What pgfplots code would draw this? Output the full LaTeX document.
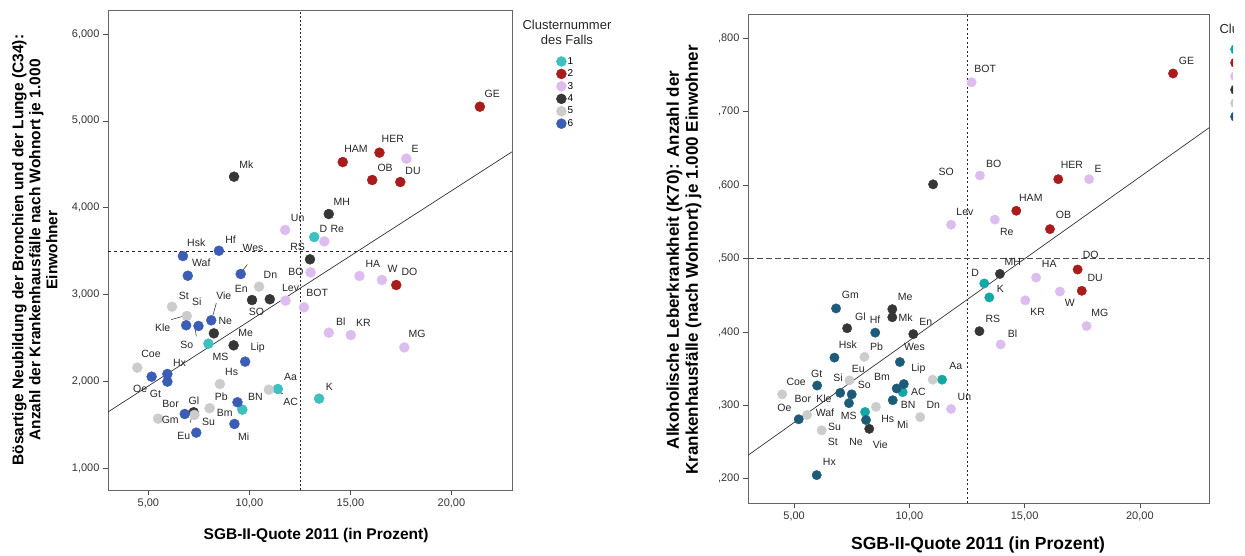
\documentclass[border=0pt]{standalone}
\usepackage{fontspec}
\setmainfont{Liberation Sans}
\usepackage{pgfplots}
\pgfplotsset{compat=1.18}

\definecolor{cA}{HTML}{3EC0C0}
\definecolor{cAr}{HTML}{14A7A7}
\definecolor{cB}{HTML}{A81C1C}
\definecolor{cC}{HTML}{DDBDF0}
\definecolor{cD}{HTML}{363636}
\definecolor{cE}{HTML}{CCCCCC}
\definecolor{cF}{HTML}{3C5DB5}
\definecolor{cFr}{HTML}{1D5C78}

\pgfplotsset{
  spss/.style={
    scale only axis, xmin=3, xmax=23, clip mode=individual,
    axis line style={draw=black!60, line width=0.9pt},
    tick pos=left, tick align=outside, major tick length=5pt,
    tick style={draw=black!70, line width=0.6pt},
    xtick={5,10,15,20}, xticklabels={{5,00},{10,00},{15,00},{20,00}},
    ticklabel style={font=\fontsize{11}{13}\selectfont, text=black!80},
    legend image code/.code={\fill[##1] (0pt,0pt) circle (5pt);},
    legend cell align=left,
    unbounded coords=jump,
  },
  pt/.style={only marks, mark=*, mark size=5pt, color=#1, mark options={draw=none, fill=#1}},
  labs/.style={draw=none, forget plot, nodes near coords, point meta=explicit symbolic,
    every node near coord/.append style={anchor=center, inner sep=0pt, text=black!85,
      font=\fontsize{10.5}{12}\selectfont}},
  refline/.style={forget plot, black!85, line width=0.7pt, #1},
  leader/.style={forget plot, black!75, line width=0.6pt},
}

\begin{document}
\begin{tikzpicture}
\useasboundingbox (0pt,0pt) rectangle (1245pt,555pt);
\clip (0pt,0pt) rectangle (1233pt,555pt);

% ---------------- left: C34 ----------------
\begin{axis}[spss, at={(108pt,65pt)}, anchor=south west, width=404pt, height=480pt,
  ymin=0.746, ymax=6.277,
  ytick={1,2,3,4,5,6}, yticklabels={{1,000},{2,000},{3,000},{4,000},{5,000},{6,000}},
  xlabel={SGB-II-Quote 2011 (in Prozent)},
  xlabel style={at={(0.515,-0.0938)}, anchor=center, font=\bfseries\fontsize{15.5}{18}\selectfont},
  ylabel={Bösartige Neubildung der Bronchien und der Lunge (C34):\\Anzahl der Krankenhausfälle nach Wohnort je 1.000\\Einwohner},
  ylabel style={at={(-0.181,0.5)}, anchor=center, align=center, font=\bfseries\fontsize{15.5}{17}\selectfont},
  legend style={at={(1.1089,0.904)}, anchor=north west, draw=none, fill=none, inner sep=0pt,
    row sep=2pt, nodes={inner sep=1pt}, font=\fontsize{10}{12}\selectfont},
]
\addplot[refline={dash pattern=on 2pt off 2pt}] coordinates {(12.5,0.746) (12.5,6.277)};
\addplot[refline={dash pattern=on 3pt off 3pt}] coordinates {(3,3.5) (23,3.5)};
\addplot[refline={solid}, black!80] coordinates {(3,1.645) (23,4.643)};
\addplot[leader] table {
x y
9.90 3.344
9.57 3.250
nan nan
8.36 2.900
8.19 2.755
nan nan
6.13 2.709
6.75 2.750
nan nan
7.32 2.594
7.37 2.516
nan nan
11.17 1.893
11.67 1.854
nan nan
7.17 1.612
7.07 1.523
};

\addplot[pt=cA] table {
x y
13.21 3.661
7.97 2.432
11.41 1.910
13.45 1.799
9.65 1.672
};
\addlegendentry{1}
\addplot[pt=cB] table {
x y
21.41 5.163
16.44 4.633
14.62 4.525
16.08 4.318
17.47 4.295
17.27 3.108
};
\addlegendentry{2}
\addplot[pt=cC] table {
x y
17.77 4.564
11.77 3.742
13.71 3.611
13.03 3.254
15.45 3.212
16.56 3.166
11.79 2.928
12.70 2.851
13.93 2.559
15.02 2.532
17.67 2.389
};
\addlegendentry{3}
\addplot[pt=cD] table {
x y
9.24 4.356
13.93 3.926
13.00 3.404
10.13 2.935
11.01 2.944
8.24 2.551
9.22 2.413
7.24 1.642
};
\addlegendentry{4}
\addplot[pt=cE] table {
x y
10.48 3.089
6.17 2.858
6.90 2.751
4.45 2.156
8.54 1.968
10.96 1.902
8.03 1.688
7.28 1.611
5.48 1.568
};
\addlegendentry{5}
\addplot[pt=cF] table {
x y
8.49 3.503
6.71 3.442
6.95 3.215
9.57 3.235
6.87 2.644
7.48 2.636
8.11 2.701
9.79 2.225
5.16 2.052
5.94 2.083
5.94 1.995
9.41 1.757
6.80 1.622
9.26 1.507
7.37 1.407
};
\addlegendentry{6}

\addplot[labs] table[meta=lab] {
x y lab
22.02 5.309 GE
17.10 4.794 HER
15.28 4.675 HAM
18.21 4.675 E
16.72 4.460 OB
18.10 4.425 DU
9.85 4.494 Mk
14.57 4.068 MH
12.39 3.876 Un
13.66 3.757 D
14.35 3.757 Re
7.37 3.596 Hsk
9.07 3.635 Hf
10.18 3.531 Wes
12.39 3.550 RS
7.62 3.365 Waf
12.30 3.254 BO
16.11 3.350 HA
17.09 3.293 W
17.92 3.254 DO
11.04 3.227 Dn
9.60 3.059 En
12.04 3.070 Lev
13.36 3.013 BOT
10.35 2.800 SO
6.75 2.985 St
7.40 2.913 Si
8.73 2.990 Vie
5.71 2.616 Kle
8.81 2.697 Ne
6.90 2.413 So
9.82 2.551 Me
8.57 2.282 MS
10.41 2.379 Lip
5.13 2.310 Coe
6.54 2.206 Hx
9.12 2.110 Hs
4.59 1.906 Oe
5.35 1.853 Gt
12.04 2.052 Aa
12.04 1.764 AC
13.96 1.930 K
10.30 1.818 BN
8.61 1.822 Pb
7.25 1.775 Gl
6.10 1.741 Bor
8.78 1.637 Bm
6.08 1.550 Gm
7.98 1.533 Su
6.75 1.369 Eu
9.72 1.360 Mi
14.52 2.686 Bl
15.65 2.674 KR
18.30 2.544 MG
};
\node[align=center, font=\fontsize{13}{15}\selectfont, text=black!85] at (rel axis cs:1.136,0.953) {Clusternummer\\des Falls};
\end{axis}

% ---------------- right: K70 ----------------
\begin{axis}[spss, at={(748pt,52pt)}, anchor=south west, width=461pt, height=489pt,
  ymin=0.167, ymax=0.833,
  ytick={0.2,0.3,0.4,0.5,0.6,0.7,0.8}, yticklabels={{,200},{,300},{,400},{,500},{,600},{,700},{,800}},
  xlabel={SGB-II-Quote 2011 (in Prozent)},
  xlabel style={at={(0.499,-0.086)}, anchor=center, font=\bfseries\fontsize{17.5}{20}\selectfont},
  ylabel={Alkoholische Leberkrankheit (K70): Anzahl der\\Krankenhausfälle (nach Wohnort) je 1.000 Einwohner},
  ylabel style={at={(-0.139,0.497)}, anchor=center, align=center, font=\bfseries\fontsize{17}{19}\selectfont},
  legend style={at={(1.0456,0.9387)}, anchor=north west, draw=none, fill=none, inner sep=0pt,
    row sep=3pt, nodes={inner sep=1pt}, font=\fontsize{10}{12}\selectfont},
]
\addplot[refline={dash pattern=on 2pt off 2.5pt}] coordinates {(12.5,0.167) (12.5,0.833)};
\addplot[refline={dash pattern=on 6pt off 3pt}, black!70] coordinates {(3,0.5) (23,0.5)};
\addplot[refline={solid}, black!80] coordinates {(3,0.232) (23,0.678)};

\addplot[pt=cAr, mark size=4.7pt] table {
x y
13.25 0.466
13.47 0.447
11.42 0.335
9.71 0.318
8.08 0.291
};
\addlegendentry{1}
\addplot[pt=cB, mark size=4.7pt] table {
x y
21.44 0.752
16.46 0.608
14.64 0.565
16.10 0.540
17.30 0.485
17.48 0.456
};
\addlegendentry{2}
\addplot[pt=cC, mark size=4.7pt] table {
x y
12.70 0.740
13.06 0.613
17.80 0.608
13.71 0.553
11.81 0.546
15.50 0.474
16.53 0.455
15.03 0.443
17.69 0.408
13.96 0.383
11.81 0.295
};
\addlegendentry{3}
\addplot[pt=cD, mark size=4.7pt] table {
x y
11.03 0.601
13.93 0.479
13.04 0.401
9.26 0.431
9.26 0.420
7.30 0.405
10.17 0.397
8.26 0.268
};
\addlegendentry{4}
\addplot[pt=cE, mark size=4.7pt] table {
x y
8.05 0.366
11.01 0.335
7.40 0.334
4.48 0.315
8.55 0.298
10.47 0.284
5.56 0.287
6.20 0.266
};
\addlegendentry{5}
\addplot[pt=cFr, mark size=4.7pt] table {
x y
6.82 0.432
8.52 0.399
6.75 0.365
9.59 0.359
9.76 0.329
9.45 0.323
9.28 0.307
6.00 0.327
7.00 0.317
7.50 0.315
7.38 0.303
8.12 0.280
5.20 0.281
5.98 0.205
};
\addlegendentry{6}

\addplot[labs] table[meta=lab] {
x y lab
13.29 0.758 BOT
22.02 0.769 GE
11.60 0.618 SO
13.66 0.629 BO
17.05 0.628 HER
18.19 0.622 E
15.27 0.583 HAM
12.41 0.563 Lev
14.23 0.536 Re
16.69 0.559 OB
17.87 0.505 DO
14.49 0.495 MH
16.07 0.492 HA
12.85 0.480 D
18.06 0.474 DU
13.95 0.459 K
16.96 0.439 W
15.57 0.427 KR
18.26 0.426 MG
13.62 0.418 RS
14.48 0.398 Bl
7.44 0.450 Gm
9.82 0.447 Me
7.88 0.421 Gl
8.51 0.416 Hf
9.84 0.420 Mk
10.71 0.414 En
7.33 0.383 Hsk
8.58 0.380 Pb
10.22 0.379 Wes
12.01 0.353 Aa
10.39 0.350 Lip
5.98 0.343 Gt
7.79 0.350 Eu
8.81 0.339 Bm
5.09 0.332 Coe
6.91 0.337 Si
8.05 0.328 So
10.39 0.318 AC
12.39 0.312 Un
5.38 0.309 Bor
6.29 0.309 Kle
4.58 0.296 Oe
6.34 0.290 Waf
7.37 0.285 MS
9.95 0.300 BN
11.04 0.300 Dn
9.06 0.282 Hs
9.71 0.273 Mi
6.75 0.270 Su
6.68 0.250 St
7.69 0.250 Ne
8.74 0.246 Vie
6.53 0.223 Hx
};
\node[anchor=west, align=center, font=\fontsize{13}{15}\selectfont, text=black!85] at (rel axis cs:1.0152,0.954) {Clusternummer\\des Falls};
\end{axis}
\end{tikzpicture}
\end{document}
